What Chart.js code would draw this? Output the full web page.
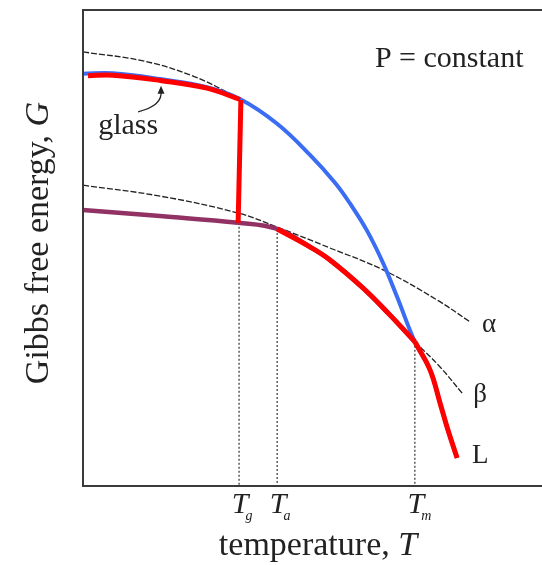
<!DOCTYPE html>
<html><head><meta charset="utf-8">
<script src="https://cdn.jsdelivr.net/npm/chart.js@4.4.0/dist/chart.umd.min.js"></script>
<style>html,body{margin:0;padding:0;background:#fff;} canvas{display:block;}</style>
</head><body>
<canvas id="c" width="542" height="565"></canvas>
<script>
// ---- data (arbitrary units: temperature 0..100, G 0..100) ----
const tickValues = [34.0, 42.3, 72.3];
const tickSubs = ['g', 'a', 'm'];
const glassX = [1.1, 6.5, 16.8, 27.0, 34.2];
const glassY = [86.2, 86.3, 85.2, 83.6, 81.2];
const glassJumpX = [34.4, 33.8];
const glassJumpY = [81.1, 55.3];
const liquidX = [0, 6.5, 16.8, 27.0, 34.2, 42.3, 49.5, 54.9, 58.2, 61.9, 65.4, 68.4, 72.3, 75.6, 77.8, 79.5, 81.5];
const liquidY = [86.6, 86.7, 85.5, 83.8, 81.3, 76.1, 69.5, 63.7, 59.3, 53.6, 46.8, 39.8, 30.3, 24.4, 17.4, 11.8, 5.9];
const liquidExtX = [0, 13.1, 24.0, 34.0];
const liquidExtY = [91.2, 89.3, 86.1, 81.5];
const betaX = [0, 16.8, 33.8, 42.3, 49.5, 53.8, 61.0, 66.9, 72.3];
const betaY = [58.0, 56.7, 55.3, 54.0, 50.2, 47.5, 41.6, 35.9, 30.3];
const betaExtX = [72.3, 77.8, 82.6];
const betaExtY = [30.3, 25.0, 19.5];
const alphaX = [0, 16.8, 33.6, 42.3, 53.8, 65.4, 77.1, 84.3];
const alphaY = [63.2, 60.9, 57.4, 54.4, 50.0, 45.4, 39.1, 34.5];
const curveLabels = ['α', 'β', 'L'];

function pts(xs, ys, from, to) {
  const out = [];
  const a = from || 0, b = (to === undefined) ? xs.length - 1 : to;
  for (let i = a; i <= b; i++) out.push({x: xs[i], y: ys[i]});
  return out;
}

const RED = '#ff0000', BLUE = '#3a6cf4', PURPLE = '#923163', DARK = '#222222';
const SERIF = '"Liberation Serif", "Times New Roman", serif';

function line(data, color, width, dash, smooth) {
  return {
    data, showLine: true, borderColor: color, borderWidth: width,
    borderDash: dash || [], pointRadius: 0, fill: false,
    tension: smooth ? 0.4 : 0,
    borderCapStyle: 'butt', borderJoinStyle: 'miter', clip: 3
  };
}

const idxTm = liquidX.indexOf(tickValues[2]);
const idxTaBeta = betaX.indexOf(tickValues[1]);

const datasets = [
  line(pts(glassX, glassY), RED, 5, null, true),
  line(pts(glassJumpX, glassJumpY), RED, 5, null, false),
  line(pts(betaX, betaY, idxTaBeta, betaX.length - 1), RED, 5, null, true),
  line(pts(liquidX, liquidY, idxTm, liquidX.length - 1), RED, 5, null, true),
  line(pts(betaX, betaY), PURPLE, 4.5, null, true),
  line(pts(liquidX, liquidY), BLUE, 4, null, true),
  line(pts(liquidExtX, liquidExtY), DARK, 1.3, [6, 2], true),
  line(pts(alphaX, alphaY), DARK, 1.3, [6, 2], true),
  line(pts(betaExtX, betaExtY), DARK, 1.3, [6, 2], true),
  // vertical guides at Tg, Ta, Tm
  line([{x: tickValues[0], y: glassJumpY[1]}, {x: tickValues[0], y: 0}], '#333', 1.2, [2, 2], false),
  line([{x: tickValues[1], y: betaY[idxTaBeta]}, {x: tickValues[1], y: 0}], '#333', 1.2, [2, 2], false),
  line([{x: tickValues[2], y: liquidY[idxTm]}, {x: tickValues[2], y: 0}], '#333', 1.2, [2, 2], false)
];

const decor = {
  id: 'decor',
  afterDraw(chart) {
    const ctx = chart.ctx, a = chart.chartArea;
    const xs = chart.scales.x, ys = chart.scales.y;
    ctx.save();
    // frame
    ctx.strokeStyle = '#3a3a3a'; ctx.lineWidth = 2; ctx.setLineDash([]);
    ctx.beginPath();
    ctx.moveTo(chart.width, a.top); ctx.lineTo(a.left, a.top);
    ctx.lineTo(a.left, a.bottom); ctx.lineTo(chart.width, a.bottom);
    ctx.stroke();

    ctx.fillStyle = '#222';
    ctx.textBaseline = 'alphabetic';
    // tick labels T_g, T_a, T_m
    tickValues.forEach((v, i) => {
      const px = xs.getPixelForValue(v) + 1;
      ctx.font = 'italic 30px ' + SERIF;
      ctx.textAlign = 'center';
      ctx.fillText('T', px, a.bottom + 27);
      const w = ctx.measureText('T').width;
      ctx.font = 'italic 14px ' + SERIF;
      ctx.textAlign = 'left';
      ctx.fillText(tickSubs[i], px + w / 2 - 3, a.bottom + 34);
    });

    // x title
    const fx = 34;
    ctx.font = fx + 'px ' + SERIF;
    const t1 = 'temperature, ';
    const w1 = ctx.measureText(t1).width;
    ctx.font = 'italic ' + fx + 'px ' + SERIF;
    const w2 = ctx.measureText('T').width;
    const cx = 318, startX = cx - (w1 + w2) / 2, by = a.bottom + 69;
    ctx.textAlign = 'left';
    ctx.font = fx + 'px ' + SERIF; ctx.fillText(t1, startX, by);
    ctx.font = 'italic ' + fx + 'px ' + SERIF; ctx.fillText('T', startX + w1, by);

    // y title
    const fy = 34;
    ctx.save();
    ctx.translate(a.left - 35, 243);
    ctx.rotate(-Math.PI / 2);
    ctx.font = fy + 'px ' + SERIF;
    const y1 = 'Gibbs free energy, ';
    const wy1 = ctx.measureText(y1).width;
    ctx.font = 'italic ' + fy + 'px ' + SERIF;
    const wy2 = ctx.measureText('G').width;
    const sx = -(wy1 + wy2) / 2;
    ctx.font = fy + 'px ' + SERIF; ctx.fillText(y1, sx, 0);
    ctx.font = 'italic ' + fy + 'px ' + SERIF; ctx.fillText('G', sx + wy1, 0);
    ctx.restore();

    // P = constant
    ctx.font = '30px ' + SERIF;
    ctx.textAlign = 'left';
    ctx.fillText('P = constant', xs.getPixelForValue(63.6), ys.getPixelForValue(88.0));

    // curve end labels
    ctx.font = '27px ' + SERIF;
    const aEnd = {x: xs.getPixelForValue(alphaX[alphaX.length - 1]), y: ys.getPixelForValue(alphaY[alphaY.length - 1])};
    const bEnd = {x: xs.getPixelForValue(betaExtX[betaExtX.length - 1]), y: ys.getPixelForValue(betaExtY[betaExtY.length - 1])};
    const lEnd = {x: xs.getPixelForValue(liquidX[liquidX.length - 1]), y: ys.getPixelForValue(liquidY[liquidY.length - 1])};
    ctx.fillText(curveLabels[0], aEnd.x + 12, aEnd.y + 10);
    ctx.fillText(curveLabels[1], bEnd.x + 11, bEnd.y + 9);
    ctx.fillText(curveLabels[2], lEnd.x + 15, lEnd.y + 5);

    // glass label + arrow
    const gx = xs.getPixelForValue(3.3), gy = ys.getPixelForValue(74.0);
    ctx.font = '30px ' + SERIF;
    ctx.fillText('glass', gx, gy);
    const tip = {x: xs.getPixelForValue(17.0), y: ys.getPixelForValue(84.1)};
    ctx.strokeStyle = '#222'; ctx.lineWidth = 1.3; ctx.setLineDash([]);
    ctx.beginPath();
    ctx.moveTo(gx + 40, gy - 22);
    ctx.quadraticCurveTo(tip.x + 2, gy - 28, tip.x, tip.y + 5);
    ctx.stroke();
    ctx.beginPath();
    ctx.moveTo(tip.x, tip.y);
    ctx.lineTo(tip.x - 3.5, tip.y + 8);
    ctx.lineTo(tip.x + 3.5, tip.y + 8);
    ctx.closePath();
    ctx.fill();
    ctx.restore();
  }
};

new Chart(document.getElementById('c'), {
  type: 'scatter',
  data: {datasets},
  options: {
    responsive: false, animation: false, devicePixelRatio: 1,
    layout: {padding: {left: 83, top: 10, right: 0, bottom: 79}},
    plugins: {legend: {display: false}, tooltip: {enabled: false}},
    scales: {
      x: {type: 'linear', min: 0, max: 100, display: false},
      y: {type: 'linear', min: 0, max: 100, display: false}
    }
  },
  plugins: [decor]
});
</script>
</body></html>
